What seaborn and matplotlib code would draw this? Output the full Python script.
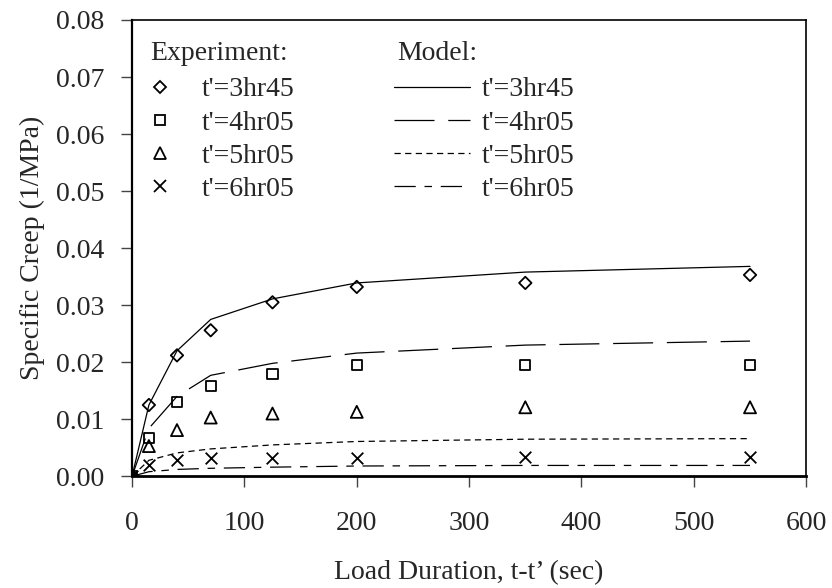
import numpy as np
import pandas as pd
import matplotlib
matplotlib.use("Agg")
import matplotlib.pyplot as plt
from matplotlib.lines import Line2D
import seaborn as sns

# load duration (sec)
duration = [0, 15, 40, 70, 125, 200, 350, 550]

labels = ["t'=3hr45", "t'=4hr05", "t'=5hr05", "t'=6hr05"]

# experiment, specific creep (1/MPa)
exp_3hr45 = [0.0, 0.0125, 0.0212, 0.0256, 0.0305, 0.0332, 0.0339, 0.0353]
exp_4hr05 = [0.0, 0.0067, 0.0130, 0.0158, 0.0179, 0.0195, 0.0195, 0.0195]
exp_5hr05 = [0.0, 0.0053, 0.0081, 0.0103, 0.0110, 0.0113, 0.0121, 0.0121]
exp_6hr05 = [0.0, 0.0019, 0.0028, 0.0032, 0.0032, 0.0032, 0.0034, 0.0034]

# model
mod_3hr45 = [0.0, 0.0125, 0.0220, 0.0275, 0.0311, 0.0339, 0.0358, 0.0368]
mod_4hr05 = [0.0, 0.0084, 0.0140, 0.0177, 0.0198, 0.0216, 0.0230, 0.0237]
mod_5hr05 = [0.0, 0.0028, 0.0041, 0.0048, 0.0055, 0.0061, 0.0065, 0.0066]
mod_6hr05 = [0.0, 0.0008, 0.0012, 0.0014, 0.0016, 0.0018, 0.0019, 0.0019]

experiments = [exp_3hr45, exp_4hr05, exp_5hr05, exp_6hr05]
models = [mod_3hr45, mod_4hr05, mod_5hr05, mod_6hr05]

markers = ["D", "s", "^", "x"]
msizes = [40, 55, 75, 70]
leg_msizes = [6, 7, 8, 8]
styles = ["-", (0, (32, 11)), (0, (5, 3.5)), (0, (17, 7, 6, 7))]

sns.set_theme(style="ticks")
plt.rcParams["font.family"] = ["Liberation Serif", "DejaVu Serif"]
fs = 20

fig = plt.figure(figsize=(8.32, 5.88), dpi=100)
ax = fig.add_axes([0.1587, 0.190, 0.8103, 0.776])

for y, ls in zip(models, styles):
    sns.lineplot(x=duration, y=y, ax=ax, color="black", linewidth=0.9,
                 linestyle=ls, estimator=None, sort=False)

for y, m, s in zip(experiments, markers, msizes):
    if m == "x":
        sns.scatterplot(x=duration, y=y, ax=ax, marker=m, color="black",
                        s=s, linewidth=1.3, zorder=3)
    else:
        sns.scatterplot(x=duration, y=y, ax=ax, marker=m, facecolor="none",
                        edgecolor="black", s=s, linewidth=1.3, zorder=3)

ax.set_xlim(0, 600)
ax.set_ylim(0, 0.08)
ax.set_xticks(np.arange(0, 601, 100))
ax.set_yticks(np.arange(0, 0.081, 0.01))
ax.set_yticklabels([f"{v:.2f}" for v in np.arange(0, 0.081, 0.01)])
ax.tick_params(axis="both", labelsize=fs, direction="out", length=8,
               width=1, color="#444444")
ax.tick_params(axis="x", pad=17)
ax.tick_params(axis="y", pad=12)
for sp in ax.spines.values():
    sp.set_color("black")
    sp.set_linewidth(1.2)
ax.spines["bottom"].set_linewidth(2)
ax.spines["left"].set_linewidth(1.6)

ax.set_xlabel("Load Duration, t-t\u2019 (sec)", fontsize=fs, labelpad=17)
ax.set_ylabel("Specific Creep (1/MPa)", fontsize=fs, labelpad=8)

# legend, two columns with headers
exp_handles = []
for m, ms in zip(markers, leg_msizes):
    if m == "x":
        exp_handles.append(Line2D([], [], marker=m, color="black", linestyle="none",
                                  markersize=ms, markeredgewidth=1.3))
    else:
        exp_handles.append(Line2D([], [], marker=m, markerfacecolor="none",
                                  markeredgecolor="black", linestyle="none",
                                  markersize=ms, markeredgewidth=1.3))
mod_handles = [Line2D([], [], color="black", linewidth=0.9, linestyle=ls)
               for ls in styles]

fig.text(150 / 832, 1 - 54 / 588, "Experiment:", fontsize=fs, ha="left", va="center")
fig.text(397 / 832, 1 - 54 / 588, "Model:", fontsize=fs, ha="left", va="center")

leg1 = fig.legend(exp_handles, labels, loc="upper left",
                  bbox_to_anchor=(146 / 832, 1 - 77 / 588), frameon=False,
                  fontsize=fs, handlelength=1.0, handletextpad=1.0,
                  labelspacing=0.28, borderpad=0, borderaxespad=0)
leg2 = fig.legend(mod_handles, labels, loc="upper left",
                  bbox_to_anchor=(394 / 832, 1 - 77 / 588), frameon=False,
                  fontsize=fs, handlelength=2.75, handletextpad=0.4,
                  labelspacing=0.28, borderpad=0, borderaxespad=0)

fig.savefig("out.png", dpi=100)
